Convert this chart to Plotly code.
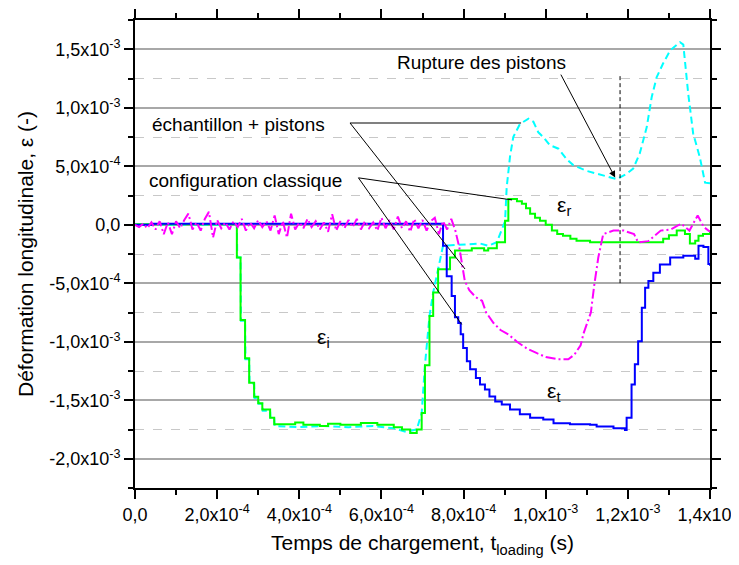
import plotly.graph_objects as go

# ---------------- data (time in units of 1e-4 s, strain in units of 1e-4) -------------
green_t = [0.0, 2.48, 2.57, 2.68, 2.78, 2.90, 3.00, 3.10, 3.29, 3.39, 3.9, 4.1, 4.5, 4.7, 5.0, 5.5,
           5.9, 6.3, 6.5, 6.7, 6.86, 6.98, 7.06, 7.17, 7.26, 7.38, 7.67, 7.79, 8.2, 8.5, 8.6, 8.81,
           9.01, 9.09, 9.30, 9.42, 9.52, 9.62, 9.74, 9.86, 10.0, 10.15, 10.28, 10.42, 10.6, 10.75,
           11.08, 12.70, 12.86, 13.0, 13.19, 13.39, 13.51, 13.64, 13.72, 13.83, 14.0]
green_e = [0.05, -2.8, -8.15, -11.4, -13.5, -14.7, -15.25, -15.8, -16.5, -17.05, -16.9, -17.1, -17.2,
           -17.0, -17.1, -16.95, -17.1, -17.3, -17.5, -17.8, -17.5, -16.1, -12.0, -7.8, -5.8, -3.8,
           -2.8, -2.2, -2.0, -2.2, -2.0, -1.5, 0.34, 2.2, 2.0, 1.8, 1.4, 0.94, 0.6, 0.34, 0.0, -0.5,
           -0.8, -0.94, -1.2, -1.37, -1.5, -1.5, -1.2, -0.9, -0.5, -0.8, -1.6, -1.37, -0.94, -0.8, -0.5]

cyan_t = [0.0, 2.48, 2.49, 2.57, 2.58, 2.68, 2.69, 2.78, 2.79, 2.90, 2.91, 3.00, 3.01, 3.10, 3.11,
          3.29, 3.30, 3.39, 3.40, 4.0, 4.6, 5.2, 5.8, 6.3, 6.6, 6.86, 6.98, 7.06, 7.17, 7.26, 7.38,
          7.50, 8.4, 8.6, 8.81, 9.01, 9.05, 9.13, 9.21, 9.37, 9.58, 9.70, 9.82, 9.94, 10.10, 10.31,
          10.51, 10.67, 11.0, 11.40, 11.73, 11.97, 12.13, 12.29, 12.46, 12.58, 12.70, 12.86, 13.03,
          13.27, 13.35, 13.47, 13.59, 13.75, 13.88, 14.0]
cyan_e = [0.0, 0.0, -2.8, -2.8, -8.2, -8.2, -11.5, -11.5, -13.6, -13.6, -14.8, -14.8, -15.3, -15.3,
          -15.9, -15.9, -16.6, -16.6, -17.2, -17.3, -17.2, -17.3, -17.2, -17.4, -17.7, -17.5, -16.1,
          -12.0, -7.8, -5.8, -3.8, -1.8, -1.6, -1.8, -1.5, 0.3, 3.2, 5.8, 7.5, 8.6, 9.07, 8.8, 7.9,
          7.5, 6.8, 6.5, 5.6, 5.1, 4.6, 4.2, 3.9, 4.35, 4.8, 6.1, 8.35, 10.9, 12.6, 13.8, 14.9, 15.6,
          15.4, 11.2, 7.8, 5.8, 3.6, 3.55]

blue_t = [0.0, 0.4, 7.50, 7.59, 7.71, 7.79, 7.87, 7.93, 7.99, 8.08, 8.16, 8.30, 8.40, 8.52, 8.63,
          8.77, 8.93, 9.13, 9.37, 9.62, 9.94, 10.19, 10.59, 11.08, 11.24, 11.65, 11.93, 11.97, 12.09,
          12.17, 12.25, 12.34, 12.42, 12.50, 12.62, 12.78, 13.03, 13.35, 13.64, 13.72, 13.84, 13.96,
          14.0]
blue_e = [0.0, 0.08, -1.8, -4.4, -6.1, -7.9, -8.4, -9.36, -10.53, -11.67, -12.36, -13.1, -13.65,
          -14.08, -14.68, -15.1, -15.36, -15.8, -16.2, -16.5, -16.65, -16.97, -17.06, -17.1, -17.25,
          -17.4, -17.54, -16.5, -13.65, -11.93, -9.96, -7.1, -5.38, -4.8, -4.1, -3.4, -2.8, -2.66,
          -2.9, -1.8, -1.9, -3.35, -3.5]

magenta_t = [0.0, 0.1, 0.2, 0.3, 0.4, 0.5, 0.6, 0.7, 0.8, 0.9, 1.0, 1.1, 1.2, 1.3, 1.4, 1.5, 1.6,
             1.7, 1.8, 1.9, 2.0, 2.1, 2.2, 2.3, 2.4, 2.5, 2.6, 2.7, 2.8, 2.9, 3.0, 3.1, 3.2, 3.3,
             3.4, 3.5, 3.6, 3.7, 3.8, 3.9, 4.0, 4.1, 4.2, 4.3, 4.4, 4.5, 4.6, 4.7, 4.8, 4.9, 5.0,
             5.1, 5.2, 5.3, 5.4, 5.5, 5.6, 5.7, 5.8, 5.9, 6.0, 6.1, 6.2, 6.3, 6.4, 6.5, 6.6, 6.7,
             6.8, 6.9, 7.0, 7.1, 7.2, 7.3, 7.4, 7.5, 7.6, 7.7, 7.8, 7.9, 8.03, 8.14, 8.30, 8.45,
             8.55, 8.73, 8.9, 9.1, 9.3, 9.55, 9.8, 10.0, 10.3, 10.55, 10.7, 10.85, 10.92, 11.0, 11.1,
             11.18, 11.28, 11.4, 11.65, 11.9, 12.15, 12.25, 12.5, 12.8, 13.05, 13.3, 13.5, 13.7,
             13.85, 14.0]
magenta_e = [0.0, -0.2, 0.1, -0.3, 0.2, -0.4, 0.3, -0.8, 0.2, -0.8, 0.3, -0.3, 0.4, 0.95, -0.4,
             0.2, -0.5, 0.5, 1.1, -1.1, 0.4, -0.3, 0.2, -0.4, 0.3, -0.2, 0.5, -0.5, 0.2, -0.3, 0.4,
             -0.2, 0.3, -0.5, 0.8, -0.8, 0.3, -1.1, 0.95, -0.4, 0.2, -0.3, 0.5, -0.2, 0.3, -0.4,
             0.2, -0.6, 0.9, -0.5, 0.3, -0.3, 0.4, -0.2, 0.5, -0.4, 0.3, -0.3, 0.2, -0.5, 0.6,
             -0.3, 0.4, -0.4, 0.7, -0.3, 0.3, -0.6, 0.5, -0.3, 0.4, -0.5, 0.3, 0.6, -0.8, 0.3,
             -0.4, 0.5, -0.5, -2.0, -4.8, -5.6, -6.2, -6.5, -7.5, -8.4, -9.0, -9.4, -10.0, -10.6,
             -11.0, -11.3, -11.5, -11.5, -11.1, -10.3, -9.3, -8.5, -7.5, -5.2, -2.8, -0.8, -0.5,
             -0.5, -0.8, -1.5, -1.4, -0.5, -0.4, 0.1, -0.5, 0.8, -0.2, -0.6]

x_tickvals = [0, 2, 4, 6, 8, 10, 12, 14]
x_ticktext = ["0,0", "2,0x10<sup>-4</sup>", "4,0x10<sup>-4</sup>", "6,0x10<sup>-4</sup>",
              "8,0x10<sup>-4</sup>", "1,0x10<sup>-3</sup>", "1,2x10<sup>-3</sup>", "1,4x10<sup>-3</sup>"]
y_tickvals = [-20, -15, -10, -5, 0, 5, 10, 15]
y_ticktext = ["-2,0x10<sup>-3</sup>", "-1,5x10<sup>-3</sup>", "-1,0x10<sup>-3</sup>",
              "-5,0x10<sup>-4</sup>", "0,0", "5,0x10<sup>-4</sup>", "1,0x10<sup>-3</sup>",
              "1,5x10<sup>-3</sup>"]

S = 1e-4
def sc(v):
    return [round(a * S, 12) for a in v]

FONT = "Arial, Liberation Sans, sans-serif"

fig = go.Figure()
fig.add_trace(go.Scatter(x=sc(cyan_t), y=sc(cyan_e), mode="lines",
                         line=dict(color="#00FFFF", width=2, dash="7px,4px")))
fig.add_trace(go.Scatter(x=sc(green_t), y=sc(green_e), mode="lines", line_shape="hv",
                         line=dict(color="#00FF00", width=2)))
fig.add_trace(go.Scatter(x=sc(blue_t), y=sc(blue_e), mode="lines", line_shape="hv",
                         line=dict(color="#0000FF", width=2)))
fig.add_trace(go.Scatter(x=sc(magenta_t), y=sc(magenta_e), mode="lines",
                         line=dict(color="#FF00FF", width=2, dash="10px,3px,2px,3px")))

# annotation lines
line_k = dict(color="black", width=1)
shapes = [
    dict(type="line", xref="x", yref="y", x0=5.235 * S, y0=8.70 * S, x1=9.40 * S, y1=8.70 * S,
         line=dict(color="#808080", width=2)),
    dict(type="line", xref="x", yref="y", x0=5.235 * S, y0=8.70 * S, x1=8.035 * S, y1=-3.78 * S, line=line_k),
    dict(type="line", xref="x", yref="y", x0=5.44 * S, y0=4.01 * S, x1=7.955 * S, y1=-8.52 * S, line=line_k),
    dict(type="line", xref="x", yref="y", x0=5.44 * S, y0=4.01 * S, x1=9.18 * S, y1=2.12 * S, line=line_k),
    dict(type="line", xref="x", yref="y", x0=11.81 * S, y0=12.7 * S, x1=11.81 * S, y1=-5.2 * S,
         line=dict(color="black", width=1, dash="4px,3px")),
]

tf = dict(family=FONT, size=19, color="black")
ef = dict(family=FONT, size=21, color="black")
annotations = [
    dict(x=0.365 * S, y=8.58 * S, xref="x", yref="y", text="échantillon + pistons",
         showarrow=False, xanchor="left", yanchor="middle", font=tf),
    dict(x=0.285 * S, y=3.78 * S, xref="x", yref="y", text="configuration classique",
         showarrow=False, xanchor="left", yanchor="middle", font=tf),
    dict(x=8.43 * S, y=13.9 * S, xref="x", yref="y", text="Rupture des pistons",
         showarrow=False, xanchor="center", yanchor="middle", font=tf),
    dict(x=11.69 * S, y=4.03 * S, ax=10.35 * S, ay=12.96 * S, xref="x", yref="y",
         axref="x", ayref="y", text="", showarrow=True, arrowhead=2, arrowsize=1.3,
         arrowwidth=1, arrowcolor="black"),
    dict(x=10.45 * S, y=1.6 * S, xref="x", yref="y", text="ε<sub>r</sub>",
         showarrow=False, font=ef),
    dict(x=4.6 * S, y=-9.7 * S, xref="x", yref="y", text="ε<sub>i</sub>",
         showarrow=False, font=ef),
    dict(x=10.2 * S, y=-14.3 * S, xref="x", yref="y", text="ε<sub>t</sub>",
         showarrow=False, font=ef),
]

axis_common = dict(showline=True, linewidth=2, linecolor="black", mirror="allticks",
                   ticks="outside", ticklen=9, tickwidth=1.5, tickcolor="black",
                   zeroline=False, automargin=False, ticklabeloverflow="allow",
                   tickfont=dict(family=FONT, size=18, color="black"))

# page body has an 8px margin: size the figure so the plot area lands where the reference has it
fig.update_layout(
    width=731, height=557,
    margin=dict(l=127, r=29, t=12, b=77),
    plot_bgcolor="white", paper_bgcolor="white",
    showlegend=False,
    shapes=shapes, annotations=annotations,
    xaxis=dict(range=[0, 14 * S], tickvals=sc(x_tickvals), ticktext=x_ticktext,
               showgrid=False,
               minor=dict(tickvals=sc([1, 3, 5, 7, 9, 11, 13]), ticks="outside", ticklen=5,
                          tickwidth=1.5, tickcolor="black", showgrid=False),
               title=dict(text="Temps de chargement, t<sub>loading</sub> (s)",
                          font=dict(family=FONT, size=21, color="black"), standoff=12),
               **axis_common),
    yaxis=dict(range=[-22.5 * S, 17.5 * S], tickvals=sc(y_tickvals), ticktext=y_ticktext,
               showgrid=True, gridcolor="#a8a8a8", gridwidth=1.5,
               minor=dict(tickvals=sc([-22.5, -17.5, -12.5, -7.5, -2.5, 2.5, 7.5, 12.5, 17.5]),
                          ticks="outside", ticklen=5, tickwidth=1.5, tickcolor="black",
                          showgrid=True, gridcolor="#c8c8c8", griddash="dash", gridwidth=1),
               title=dict(text="Déformation longitudinale, ε (-)",
                          font=dict(family=FONT, size=21, color="black"), standoff=10),
               **axis_common),
)

fig.write_html("out.html")
